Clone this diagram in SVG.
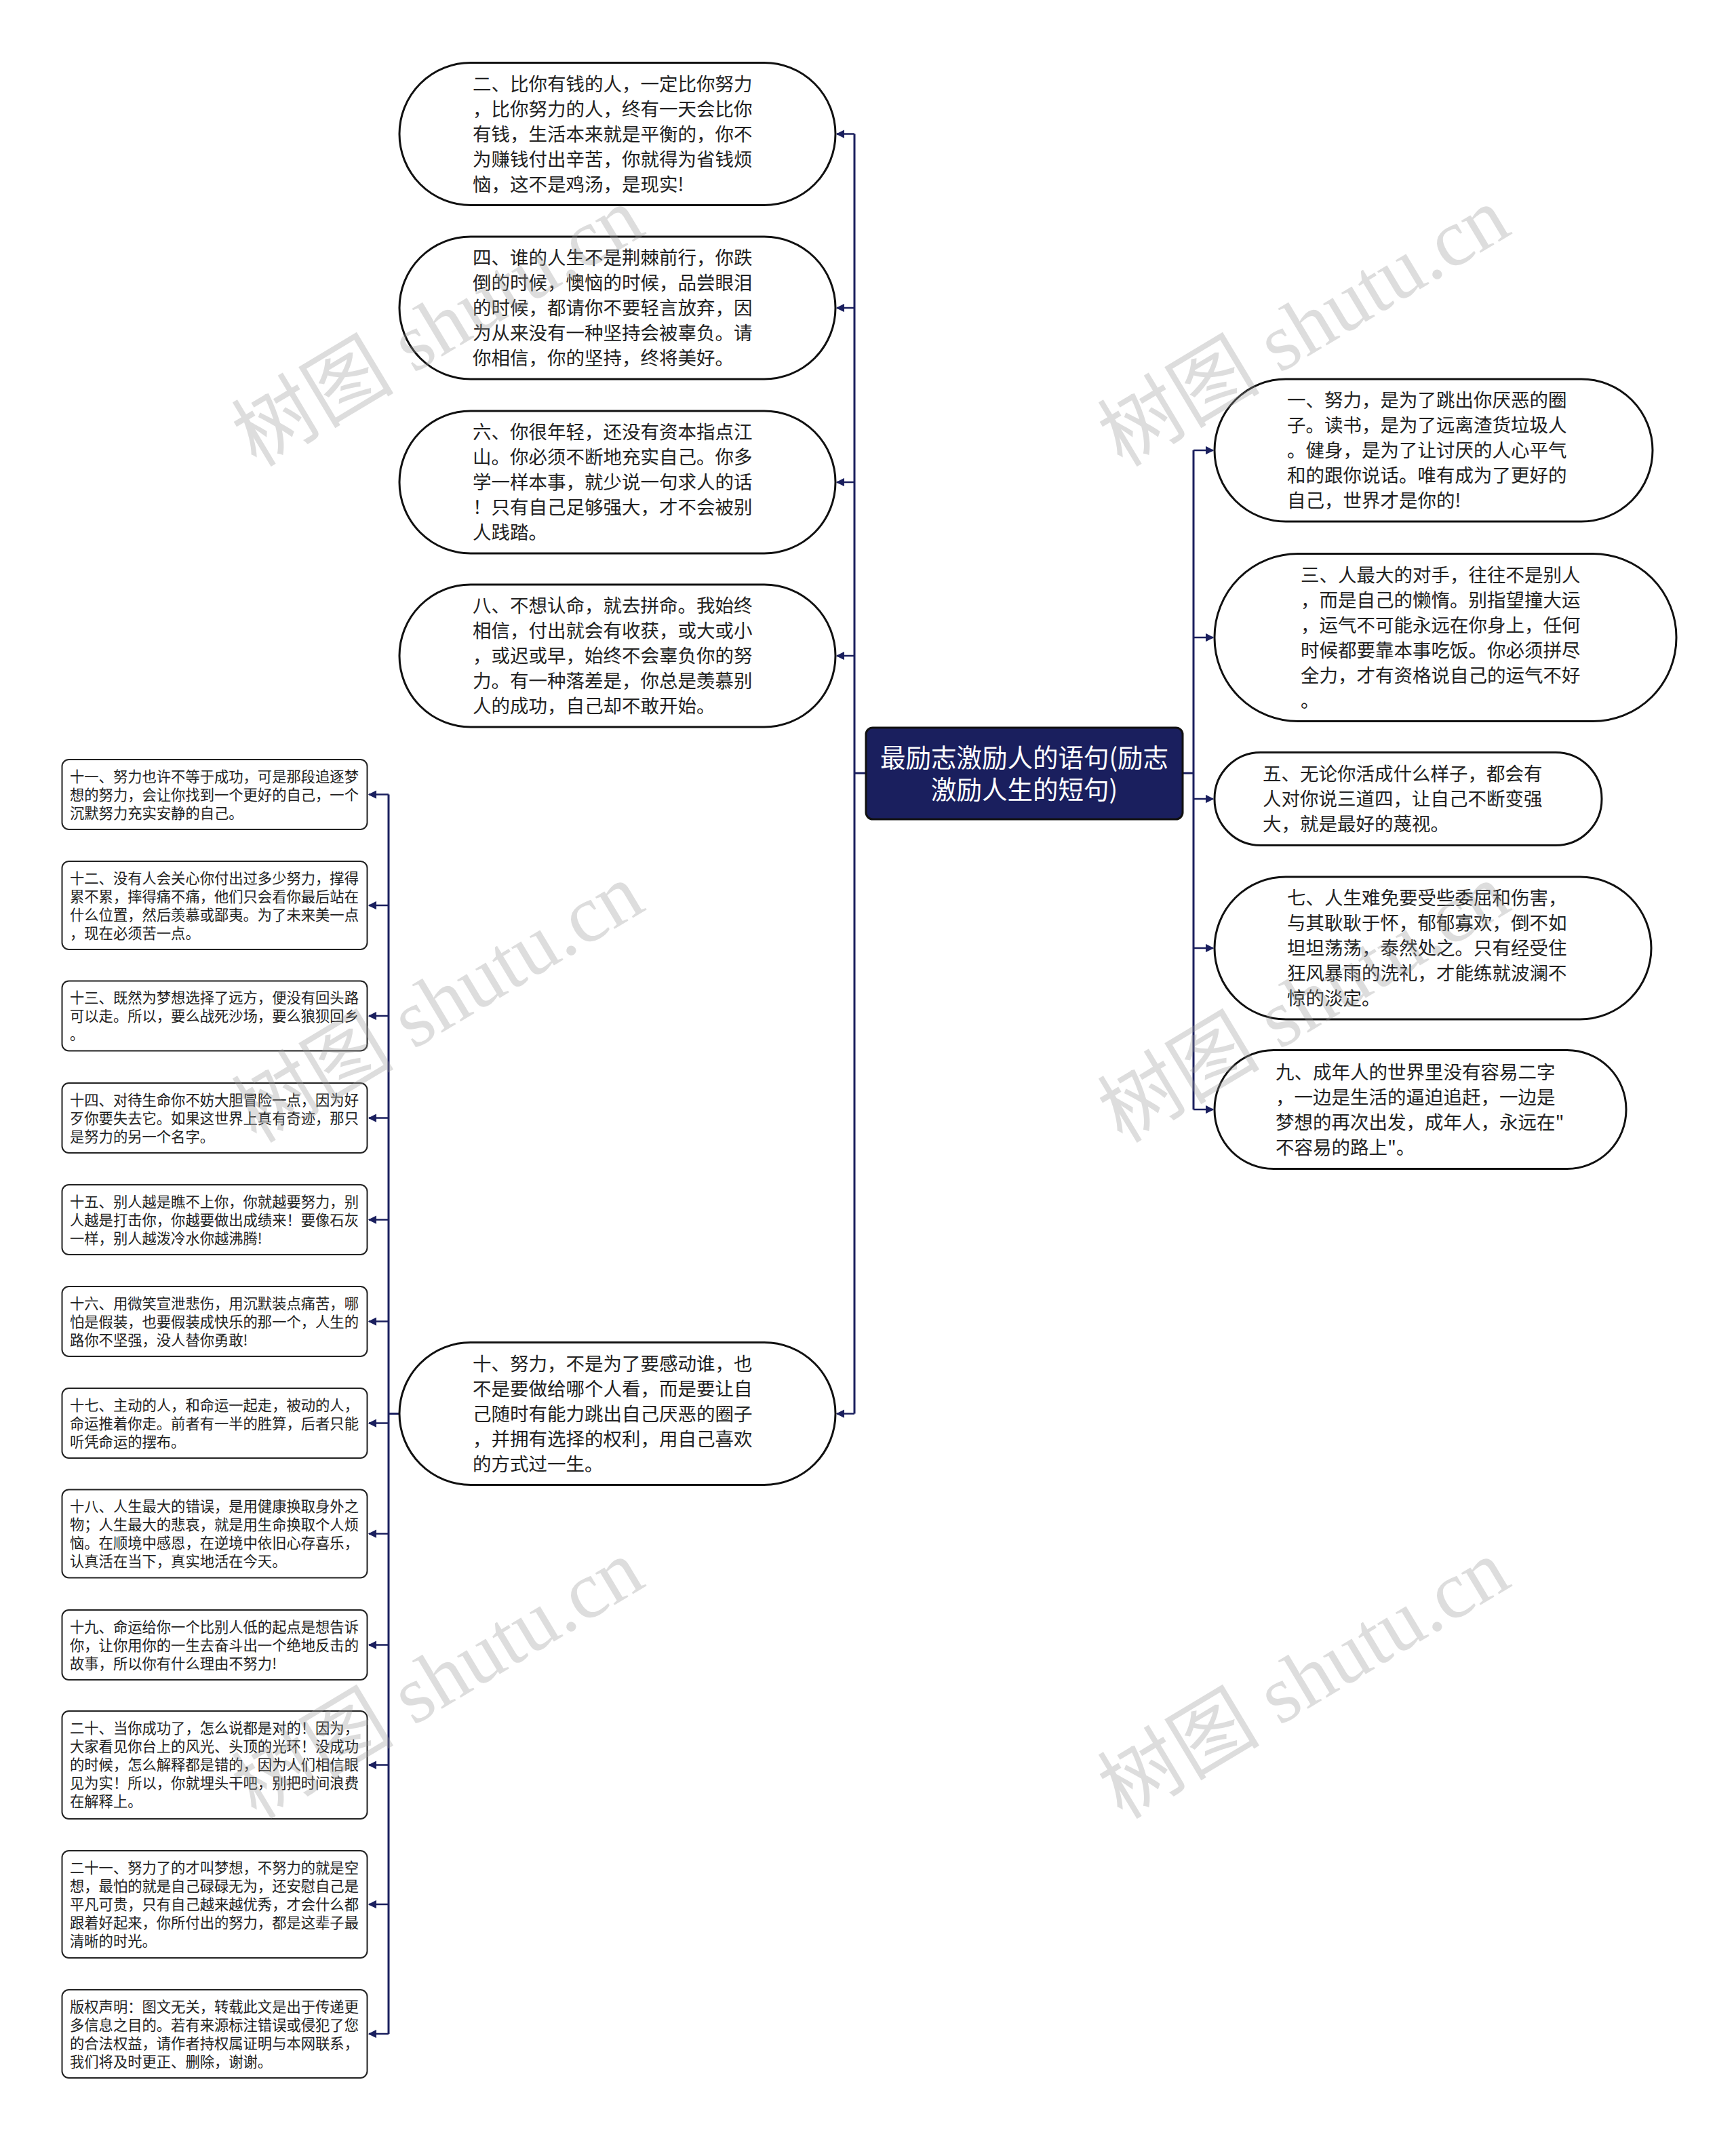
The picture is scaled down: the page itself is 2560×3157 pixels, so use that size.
<svg xmlns="http://www.w3.org/2000/svg" width="2560" height="3157" viewBox="0 0 2560 3157">
<style>
.bg{fill:#ffffff}
.big{fill:#ffffff;stroke:#111111;stroke-width:3}
.small{fill:#ffffff;stroke:#222222;stroke-width:2}
.root{fill:#1a1f5e;stroke:#111111;stroke-width:3}
.t{font-family:"Noto Sans CJK SC","Noto Sans",sans-serif;font-size:27.5px;fill:#222222}
.ts{font-family:"Noto Sans CJK SC","Noto Sans",sans-serif;font-size:21.3px;fill:#222222}
.tr{font-family:"Noto Sans CJK SC","Noto Sans",sans-serif;font-size:37.5px;fill:#ffffff;text-anchor:middle}
.trunk{fill:none;stroke:#1a1f5e;stroke-width:3}
.arr{fill:none;stroke:#1a1f5e;stroke-width:2.5;marker-end:url(#ah)}
.wm{font-family:"Liberation Serif","Noto Sans CJK SC",serif;font-size:120px;fill:#9a9a9a;opacity:0.33}
</style>
<defs>
<marker id="ah" viewBox="0 0 10 10" refX="9" refY="5" markerWidth="5" markerHeight="5" orient="auto" markerUnits="strokeWidth">
<path d="M0,0 L10,5 L0,10 z" fill="#1a1f5e"/>
</marker>
</defs>
<rect class="bg" x="0" y="0" width="2560" height="3157"/>

<g id="connectors">
<path class="trunk" d="M1277,1140 H1260 M1260,197.5 V2084.5"/>
<path class="trunk" d="M1744,1140 H1760 M1760,664 V1636"/>
<path class="trunk" d="M589,2084.5 H573 M573,1171.5 V2999"/>
<line class="arr" x1="1260" y1="197.5" x2="1234" y2="197.5"/>
<line class="arr" x1="1260" y1="454" x2="1234" y2="454"/>
<line class="arr" x1="1260" y1="711" x2="1234" y2="711"/>
<line class="arr" x1="1260" y1="967" x2="1234" y2="967"/>
<line class="arr" x1="1260" y1="2084.5" x2="1234" y2="2084.5"/>
<line class="arr" x1="1760" y1="664" x2="1789" y2="664"/>
<line class="arr" x1="1760" y1="940" x2="1789" y2="940"/>
<line class="arr" x1="1760" y1="1178" x2="1789" y2="1178"/>
<line class="arr" x1="1760" y1="1398" x2="1789" y2="1398"/>
<line class="arr" x1="1760" y1="1636" x2="1789" y2="1636"/>
<line class="arr" x1="573" y1="1171.5" x2="544" y2="1171.5"/>
<line class="arr" x1="573" y1="1335" x2="544" y2="1335"/>
<line class="arr" x1="573" y1="1498" x2="544" y2="1498"/>
<line class="arr" x1="573" y1="1648.5" x2="544" y2="1648.5"/>
<line class="arr" x1="573" y1="1798.5" x2="544" y2="1798.5"/>
<line class="arr" x1="573" y1="1948.5" x2="544" y2="1948.5"/>
<line class="arr" x1="573" y1="2098.5" x2="544" y2="2098.5"/>
<line class="arr" x1="573" y1="2261.5" x2="544" y2="2261.5"/>
<line class="arr" x1="573" y1="2425.5" x2="544" y2="2425.5"/>
<line class="arr" x1="573" y1="2602.5" x2="544" y2="2602.5"/>
<line class="arr" x1="573" y1="2808" x2="544" y2="2808"/>
<line class="arr" x1="573" y1="2999" x2="544" y2="2999"/>
</g>

<g id="root">
<rect class="root" x="1277" y="1073" width="467" height="135" rx="10"/>
<text class="tr" x="1510.5" y="1131">最励志激励人的语句(励志</text>
<text class="tr" x="1510.5" y="1178">激励人生的短句)</text>
</g>

<g id="n2">
<rect class="big" x="589" y="92.5" width="643" height="210" rx="105"/>
<text class="t"><tspan x="697" y="133.5">二、比你有钱的人，一定比你努力</tspan><tspan x="697" y="170.5">，比你努力的人，终有一天会比你</tspan><tspan x="697" y="207.5">有钱，生活本来就是平衡的，你不</tspan><tspan x="697" y="244.5">为赚钱付出辛苦，你就得为省钱烦</tspan><tspan x="697" y="281.5">恼，这不是鸡汤，是现实!</tspan></text>
</g>
<g id="n4">
<rect class="big" x="589" y="349" width="643" height="210" rx="105"/>
<text class="t"><tspan x="697" y="390">四、谁的人生不是荆棘前行，你跌</tspan><tspan x="697" y="427">倒的时候，懊恼的时候，品尝眼泪</tspan><tspan x="697" y="464">的时候，都请你不要轻言放弃，因</tspan><tspan x="697" y="501">为从来没有一种坚持会被辜负。请</tspan><tspan x="697" y="538">你相信，你的坚持，终将美好。</tspan></text>
</g>
<g id="n6">
<rect class="big" x="589" y="606" width="643" height="210" rx="105"/>
<text class="t"><tspan x="697" y="647">六、你很年轻，还没有资本指点江</tspan><tspan x="697" y="684">山。你必须不断地充实自己。你多</tspan><tspan x="697" y="721">学一样本事，就少说一句求人的话</tspan><tspan x="697" y="758">！只有自己足够强大，才不会被别</tspan><tspan x="697" y="795">人践踏。</tspan></text>
</g>
<g id="n8">
<rect class="big" x="589" y="862" width="643" height="210" rx="105"/>
<text class="t"><tspan x="697" y="903">八、不想认命，就去拼命。我始终</tspan><tspan x="697" y="940">相信，付出就会有收获，或大或小</tspan><tspan x="697" y="977">，或迟或早，始终不会辜负你的努</tspan><tspan x="697" y="1014">力。有一种落差是，你总是羡慕别</tspan><tspan x="697" y="1051">人的成功，自己却不敢开始。</tspan></text>
</g>
<g id="n10">
<rect class="big" x="589" y="1979.5" width="643" height="210" rx="105"/>
<text class="t"><tspan x="697" y="2020.5">十、努力，不是为了要感动谁，也</tspan><tspan x="697" y="2057.5">不是要做给哪个人看，而是要让自</tspan><tspan x="697" y="2094.5">己随时有能力跳出自己厌恶的圈子</tspan><tspan x="697" y="2131.5">，并拥有选择的权利，用自己喜欢</tspan><tspan x="697" y="2168.5">的方式过一生。</tspan></text>
</g>

<g id="n1">
<rect class="big" x="1791" y="559" width="646" height="210" rx="105"/>
<text class="t"><tspan x="1898" y="600">一、努力，是为了跳出你厌恶的圈</tspan><tspan x="1898" y="637">子。读书，是为了远离渣货垃圾人</tspan><tspan x="1898" y="674">。健身，是为了让讨厌的人心平气</tspan><tspan x="1898" y="711">和的跟你说话。唯有成为了更好的</tspan><tspan x="1898" y="748">自己，世界才是你的!</tspan></text>
</g>
<g id="n3">
<rect class="big" x="1791" y="816.5" width="681" height="247" rx="123"/>
<text class="t"><tspan x="1918" y="857.5">三、人最大的对手，往往不是别人</tspan><tspan x="1918" y="894.5">，而是自己的懒惰。别指望撞大运</tspan><tspan x="1918" y="931.5">，运气不可能永远在你身上，任何</tspan><tspan x="1918" y="968.5">时候都要靠本事吃饭。你必须拼尽</tspan><tspan x="1918" y="1005.5">全力，才有资格说自己的运气不好</tspan><tspan x="1918" y="1042.5">。</tspan></text>
</g>
<g id="n5">
<rect class="big" x="1791" y="1109.5" width="571" height="137" rx="68"/>
<text class="t"><tspan x="1862" y="1151">五、无论你活成什么样子，都会有</tspan><tspan x="1862" y="1188">人对你说三道四，让自己不断变强</tspan><tspan x="1862" y="1225">大，就是最好的蔑视。</tspan></text>
</g>
<g id="n7">
<rect class="big" x="1791" y="1293" width="644" height="210" rx="105"/>
<text class="t"><tspan x="1898" y="1334">七、人生难免要受些委屈和伤害，</tspan><tspan x="1898" y="1371">与其耿耿于怀，郁郁寡欢，倒不如</tspan><tspan x="1898" y="1408">坦坦荡荡，泰然处之。只有经受住</tspan><tspan x="1898" y="1445">狂风暴雨的洗礼，才能练就波澜不</tspan><tspan x="1898" y="1482">惊的淡定。</tspan></text>
</g>
<g id="n9">
<rect class="big" x="1791" y="1548.5" width="607" height="175" rx="87"/>
<text class="t"><tspan x="1881" y="1590.5">九、成年人的世界里没有容易二字</tspan><tspan x="1881" y="1627.5">，一边是生活的逼迫追赶，一边是</tspan><tspan x="1881" y="1664.5">梦想的再次出发，成年人，永远在"</tspan><tspan x="1881" y="1701.5">不容易的路上"。</tspan></text>
</g>

<g id="n11">
<rect class="small" x="91.5" y="1120" width="450" height="103" rx="10"/>
<text class="ts"><tspan x="103" y="1152.5">十一、努力也许不等于成功，可是那段追逐梦</tspan><tspan x="103" y="1179.5">想的努力，会让你找到一个更好的自己，一个</tspan><tspan x="103" y="1206.5">沉默努力充实安静的自己。</tspan></text>
</g>
<g id="n12">
<rect class="small" x="91.5" y="1270" width="450" height="130" rx="10"/>
<text class="ts"><tspan x="103" y="1302.5">十二、没有人会关心你付出过多少努力，撑得</tspan><tspan x="103" y="1329.5">累不累，摔得痛不痛，他们只会看你最后站在</tspan><tspan x="103" y="1356.5">什么位置，然后羡慕或鄙夷。为了未来美一点</tspan><tspan x="103" y="1383.5">，现在必须苦一点。</tspan></text>
</g>
<g id="n13">
<rect class="small" x="91.5" y="1446.5" width="450" height="103" rx="10"/>
<text class="ts"><tspan x="103" y="1479">十三、既然为梦想选择了远方，便没有回头路</tspan><tspan x="103" y="1506">可以走。所以，要么战死沙场，要么狼狈回乡</tspan><tspan x="103" y="1533">。</tspan></text>
</g>
<g id="n14">
<rect class="small" x="91.5" y="1597" width="450" height="103" rx="10"/>
<text class="ts"><tspan x="103" y="1629.5">十四、对待生命你不妨大胆冒险一点，因为好</tspan><tspan x="103" y="1656.5">歹你要失去它。如果这世界上真有奇迹，那只</tspan><tspan x="103" y="1683.5">是努力的另一个名字。</tspan></text>
</g>
<g id="n15">
<rect class="small" x="91.5" y="1747" width="450" height="103" rx="10"/>
<text class="ts"><tspan x="103" y="1779.5">十五、别人越是瞧不上你，你就越要努力，别</tspan><tspan x="103" y="1806.5">人越是打击你，你越要做出成绩来！要像石灰</tspan><tspan x="103" y="1833.5">一样，别人越泼冷水你越沸腾!</tspan></text>
</g>
<g id="n16">
<rect class="small" x="91.5" y="1897" width="450" height="103" rx="10"/>
<text class="ts"><tspan x="103" y="1929.5">十六、用微笑宣泄悲伤，用沉默装点痛苦，哪</tspan><tspan x="103" y="1956.5">怕是假装，也要假装成快乐的那一个，人生的</tspan><tspan x="103" y="1983.5">路你不坚强，没人替你勇敢!</tspan></text>
</g>
<g id="n17">
<rect class="small" x="91.5" y="2047" width="450" height="103" rx="10"/>
<text class="ts"><tspan x="103" y="2079.5">十七、主动的人，和命运一起走，被动的人，</tspan><tspan x="103" y="2106.5">命运推着你走。前者有一半的胜算，后者只能</tspan><tspan x="103" y="2133.5">听凭命运的摆布。</tspan></text>
</g>
<g id="n18">
<rect class="small" x="91.5" y="2196.5" width="450" height="130" rx="10"/>
<text class="ts"><tspan x="103" y="2229">十八、人生最大的错误，是用健康换取身外之</tspan><tspan x="103" y="2256">物；人生最大的悲哀，就是用生命换取个人烦</tspan><tspan x="103" y="2283">恼。在顺境中感恩，在逆境中依旧心存喜乐，</tspan><tspan x="103" y="2310">认真活在当下，真实地活在今天。</tspan></text>
</g>
<g id="n19">
<rect class="small" x="91.5" y="2374" width="450" height="103" rx="10"/>
<text class="ts"><tspan x="103" y="2406.5">十九、命运给你一个比别人低的起点是想告诉</tspan><tspan x="103" y="2433.5">你，让你用你的一生去奋斗出一个绝地反击的</tspan><tspan x="103" y="2460.5">故事，所以你有什么理由不努力!</tspan></text>
</g>
<g id="n20">
<rect class="small" x="91.5" y="2523" width="450" height="159" rx="10"/>
<text class="ts"><tspan x="103" y="2556">二十、当你成功了，怎么说都是对的！因为，</tspan><tspan x="103" y="2583">大家看见你台上的风光、头顶的光环！没成功</tspan><tspan x="103" y="2610">的时候，怎么解释都是错的，因为人们相信眼</tspan><tspan x="103" y="2637">见为实！所以，你就埋头干吧，别把时间浪费</tspan><tspan x="103" y="2664">在解释上。</tspan></text>
</g>
<g id="n21">
<rect class="small" x="91.5" y="2729" width="450" height="158" rx="10"/>
<text class="ts"><tspan x="103" y="2761.5">二十一、努力了的才叫梦想，不努力的就是空</tspan><tspan x="103" y="2788.5">想，最怕的就是自己碌碌无为，还安慰自己是</tspan><tspan x="103" y="2815.5">平凡可贵，只有自己越来越优秀，才会什么都</tspan><tspan x="103" y="2842.5">跟着好起来，你所付出的努力，都是这辈子最</tspan><tspan x="103" y="2869.5">清晰的时光。</tspan></text>
</g>
<g id="ncopy">
<rect class="small" x="91.5" y="2934" width="450" height="130" rx="10"/>
<text class="ts"><tspan x="103" y="2966.5">版权声明：图文无关，转载此文是出于传递更</tspan><tspan x="103" y="2993.5">多信息之目的。若有来源标注错误或侵犯了您</tspan><tspan x="103" y="3020.5">的合法权益，请作者持权属证明与本网联系，</tspan><tspan x="103" y="3047.5">我们将及时更正、删除，谢谢。</tspan></text>
</g>

<g id="watermarks">
<text class="wm" transform="translate(378,690) rotate(-31)">树图 shutu.cn</text>
<text class="wm" transform="translate(1655,690) rotate(-31)">树图 shutu.cn</text>
<text class="wm" transform="translate(378,1687) rotate(-31)">树图 shutu.cn</text>
<text class="wm" transform="translate(1655,1687) rotate(-31)">树图 shutu.cn</text>
<text class="wm" transform="translate(378,2684) rotate(-31)">树图 shutu.cn</text>
<text class="wm" transform="translate(1655,2684) rotate(-31)">树图 shutu.cn</text>
</g>
</svg>
